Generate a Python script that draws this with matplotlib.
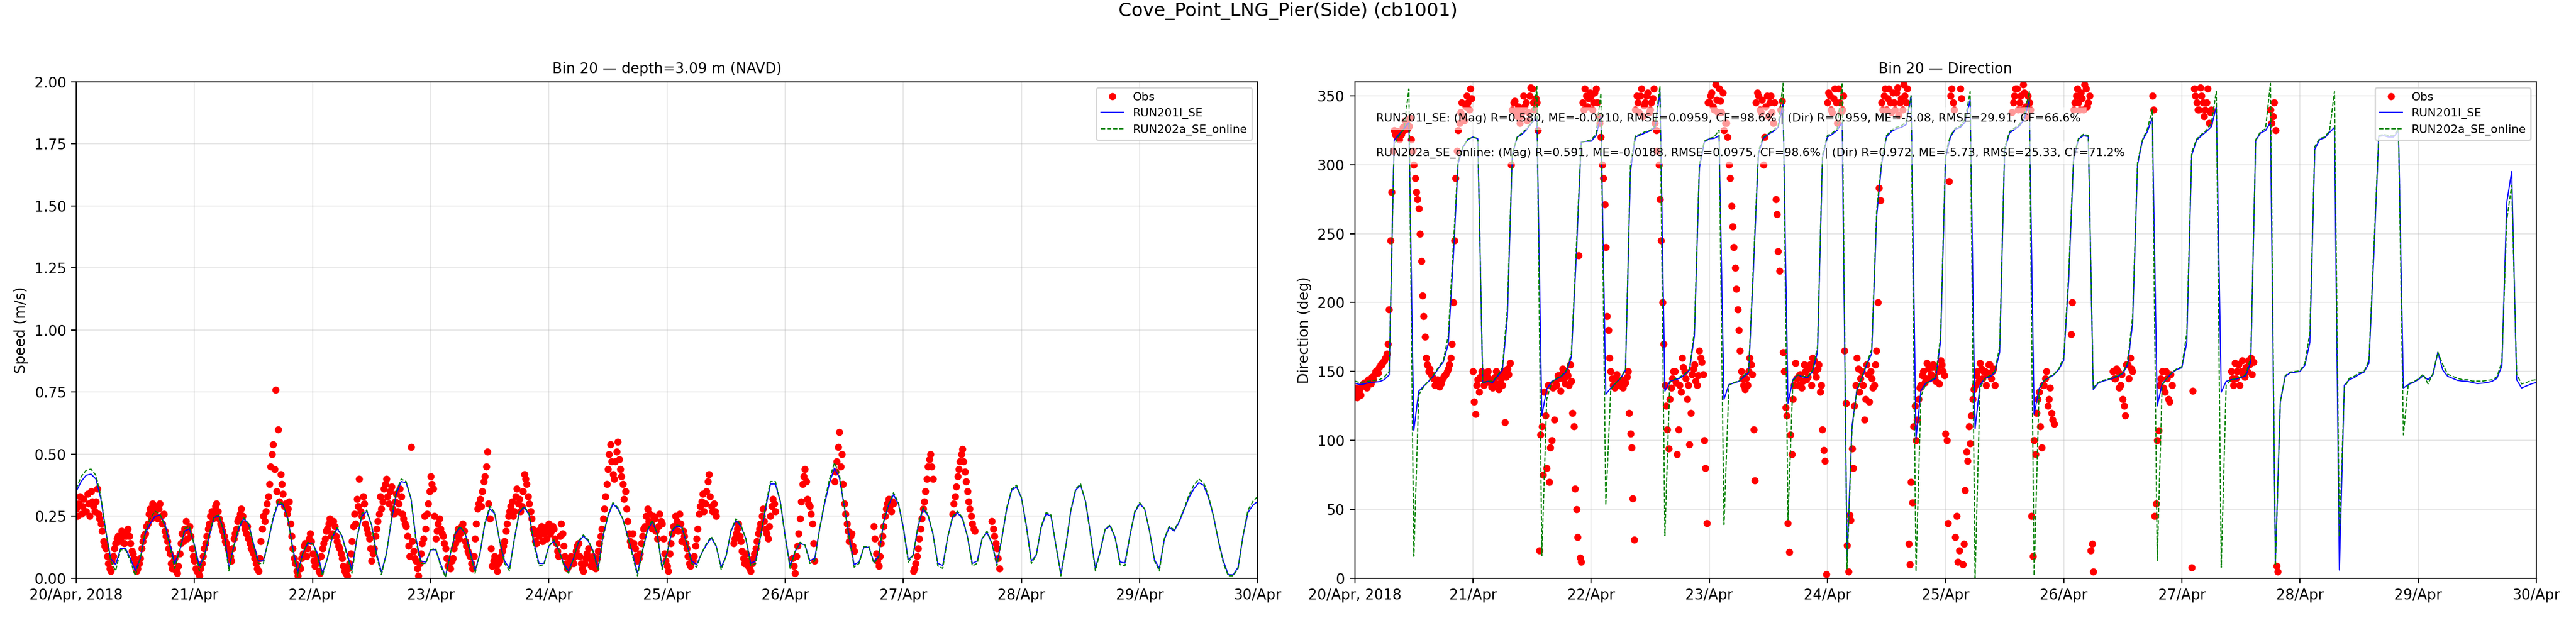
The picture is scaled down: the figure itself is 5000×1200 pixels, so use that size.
#===============================================================================
import matplotlib
matplotlib.use("Agg")
import matplotlib.pyplot as plt
import matplotlib.dates as mdates
import numpy as np

nan = np.nan

#===============================================================================
# station / run labels
station = "Cove_Point_LNG_Pier(Side) (cb1001)"
bin_label = "Bin 20"
depth_label = "depth=3.09 m (NAVD)"
run_names = ["RUN201I_SE", "RUN202a_SE_online"]
stats_lines = [
    "RUN201I_SE: (Mag) R=0.580, ME=-0.0210, RMSE=0.0959, CF=98.6% | (Dir) R=0.959, ME=-5.08, RMSE=29.91, CF=66.6%",
    "RUN202a_SE_online: (Mag) R=0.591, ME=-0.0188, RMSE=0.0975, CF=98.6% | (Dir) R=0.972, ME=-5.73, RMSE=25.33, CF=71.2%",
]

t_start = np.datetime64("2018-04-20T00:00")
t_end = np.datetime64("2018-04-30T00:00")

#===============================================================================
# model output, hourly from 20/Apr 00:00 (one row per day)
run201_speed = [
    0.35, 0.39, 0.415, 0.42, 0.40, 0.32, 0.19, 0.08, 0.055, 0.12, 0.12, 0.08, 0.03, 0.08, 0.18, 0.22, 0.25, 0.255, 0.22, 0.14, 0.06, 0.11, 0.19, 0.20,
    0.135, 0.05, 0.09, 0.17, 0.245, 0.25, 0.19, 0.04, 0.13, 0.20, 0.24, 0.22, 0.14, 0.07, 0.07, 0.15, 0.24, 0.30, 0.295, 0.24, 0.12, 0.025, 0.10, 0.14,
    0.142, 0.10, 0.02, 0.08, 0.165, 0.20, 0.17, 0.10, 0.035, 0.16, 0.25, 0.27, 0.215, 0.10, 0.025, 0.10, 0.23, 0.34, 0.39, 0.385, 0.32, 0.16, 0.07, 0.065,
    0.115, 0.115, 0.06, 0.007, 0.10, 0.18, 0.205, 0.18, 0.11, 0.03, 0.10, 0.22, 0.28, 0.26, 0.15, 0.07, 0.04, 0.16, 0.265, 0.285, 0.255, 0.14, 0.06, 0.06,
    0.13, 0.15, 0.115, 0.06, 0.03, 0.08, 0.145, 0.17, 0.15, 0.11, 0.04, 0.17, 0.25, 0.30, 0.28, 0.24, 0.17, 0.10, 0.02, 0.11, 0.19, 0.23, 0.18, 0.045,
    0.10, 0.19, 0.21, 0.205, 0.14, 0.07, 0.055, 0.10, 0.135, 0.163, 0.128, 0.045, 0.09, 0.19, 0.233, 0.21, 0.16, 0.06, 0.07, 0.17, 0.28, 0.38, 0.38, 0.31,
    0.17, 0.05, 0.108, 0.14, 0.135, 0.072, 0.08, 0.20, 0.30, 0.385, 0.444, 0.406, 0.29, 0.17, 0.055, 0.066, 0.125, 0.125, 0.066, 0.09, 0.226, 0.295, 0.337, 0.30,
    0.205, 0.075, 0.094, 0.21, 0.278, 0.253, 0.18, 0.06, 0.052, 0.165, 0.245, 0.264, 0.24, 0.17, 0.06, 0.07, 0.16, 0.184, 0.14, 0.06, 0.16, 0.28, 0.355, 0.368,
    0.323, 0.21, 0.07, 0.094, 0.205, 0.26, 0.25, 0.13, 0.02, 0.13, 0.27, 0.355, 0.375, 0.31, 0.18, 0.04, 0.11, 0.198, 0.21, 0.165, 0.066, 0.062, 0.17, 0.265,
    0.30, 0.28, 0.19, 0.075, 0.04, 0.156, 0.205, 0.19, 0.226, 0.275, 0.325, 0.36, 0.385, 0.375, 0.323, 0.25, 0.15, 0.07, 0.015, 0.014, 0.045, 0.17, 0.265, 0.295,
    0.31,
]
run202_speed = [
    0.36, 0.41, 0.435, 0.44, 0.415, 0.33, 0.19, 0.07, 0.03, 0.115, 0.115, 0.07, 0.01, 0.08, 0.19, 0.24, 0.27, 0.26, 0.21, 0.13, 0.04, 0.11, 0.20, 0.21,
    0.13, 0.03, 0.09, 0.18, 0.25, 0.255, 0.18, 0.03, 0.13, 0.21, 0.245, 0.22, 0.13, 0.06, 0.06, 0.15, 0.25, 0.31, 0.30, 0.24, 0.11, 0.01, 0.10, 0.145,
    0.14, 0.09, 0.01, 0.08, 0.17, 0.205, 0.17, 0.09, 0.02, 0.16, 0.26, 0.275, 0.21, 0.09, 0.015, 0.10, 0.24, 0.35, 0.40, 0.39, 0.32, 0.15, 0.06, 0.06,
    0.115, 0.12, 0.05, 0.005, 0.10, 0.185, 0.21, 0.18, 0.10, 0.02, 0.10, 0.225, 0.29, 0.265, 0.15, 0.06, 0.03, 0.16, 0.27, 0.29, 0.26, 0.13, 0.05, 0.055,
    0.13, 0.155, 0.115, 0.055, 0.02, 0.08, 0.15, 0.175, 0.155, 0.105, 0.03, 0.17, 0.255, 0.305, 0.285, 0.24, 0.17, 0.09, 0.01, 0.11, 0.195, 0.235, 0.18, 0.035,
    0.10, 0.195, 0.215, 0.21, 0.14, 0.06, 0.045, 0.10, 0.14, 0.168, 0.13, 0.035, 0.09, 0.195, 0.24, 0.215, 0.16, 0.05, 0.06, 0.17, 0.29, 0.39, 0.39, 0.31,
    0.165, 0.04, 0.108, 0.145, 0.135, 0.06, 0.07, 0.20, 0.31, 0.40, 0.465, 0.42, 0.29, 0.16, 0.045, 0.06, 0.128, 0.128, 0.06, 0.085, 0.23, 0.30, 0.345, 0.305,
    0.20, 0.065, 0.094, 0.215, 0.285, 0.258, 0.18, 0.05, 0.04, 0.165, 0.25, 0.27, 0.245, 0.17, 0.05, 0.06, 0.16, 0.19, 0.14, 0.05, 0.16, 0.285, 0.36, 0.375,
    0.325, 0.205, 0.06, 0.094, 0.21, 0.265, 0.255, 0.13, 0.01, 0.13, 0.275, 0.36, 0.38, 0.31, 0.175, 0.03, 0.11, 0.20, 0.215, 0.165, 0.055, 0.05, 0.17, 0.27,
    0.305, 0.28, 0.19, 0.07, 0.03, 0.16, 0.21, 0.195, 0.23, 0.28, 0.335, 0.375, 0.40, 0.385, 0.33, 0.25, 0.15, 0.06, 0.01, 0.01, 0.04, 0.175, 0.275, 0.31,
    0.33,
]
run201_dir = [
    141.6, 140.5, 141, 142, 142.3, 142.6, 144, 147.5, 317.5, 322, 326, 330.5, 107.4, 135.7, 139.3, 142.8, 146.8, 152.3, 157, 170, 231, 301, 312.8, 318.2,
    320, 318.7, 141.6, 142.8, 142, 146.4, 151, 189, 307, 320, 322, 325.8, 330.5, 334, 118, 137, 142.8, 144.5, 146.4, 150, 160.5, 233.7, 316.3, 316.8,
    316.8, 321, 335, 133.4, 138, 141.6, 145, 151, 295, 320, 321.5, 323, 324.6, 327, 353, 135.7, 142.8, 144, 145, 147.5, 151, 176, 297.5, 316.3,
    318.7, 319, 321, 129.8, 140.5, 141.6, 142.8, 146, 149, 225, 308, 319, 322, 324, 327, 344, 127, 144, 147.5, 146, 145.5, 150, 164, 305,
    320, 322, 325, 330.5, 14, 110, 137, 145, 155, 163, 262, 300, 320, 324, 326, 327, 329, 350, 101, 136, 141.6, 143, 145, 172,
    305, 320, 325.8, 327, 331, 347, 108.6, 140, 145, 146, 149, 164, 310, 323, 325.5, 328, 333, 347, 119, 137.5, 143.5, 145.5, 147.5, 151.5,
    158, 215, 303, 318.5, 321, 320.4, 137, 141.6, 143, 144, 145, 146.4, 148.5, 155, 185, 300, 317.5, 324, 334, 125, 141, 145, 149, 151.5,
    152.7, 171, 307, 317.7, 321, 324, 327.5, 342, 135, 142.8, 144, 144.5, 145.5, 147, 157, 317.5, 323, 324.7, 330.5, 12, 128, 146.4, 149, 149.5,
    150, 154.6, 171, 311, 318.2, 319.4, 323.4, 327, 6, 140, 144, 145.5, 148, 149.5, 156, 235, 320.5, 321, 320, 320, 324.6, 138, 140.5, 142,
    144, 146.8, 144, 147.5, 164, 151, 146.5, 145, 143.5, 143, 142.8, 142, 141.2, 141.5, 142, 142.8, 145, 154, 272.7, 295, 144, 138, 139.5, 141,
    142,
]
run202_dir = [
    143, 142, 142.5, 143, 143.5, 144, 146, 150, 314, 321, 326, 355, 16, 133, 139, 143, 147.5, 153, 158, 176, 240, 303, 313, 318.5,
    320, 319, 142, 143, 143, 147, 153, 196, 308, 320, 323, 326.5, 331, 357, 16.5, 130, 142, 145, 147, 151, 163, 240, 316, 317,
    318, 322, 352, 53, 137, 141.6, 145, 152, 300, 321, 322, 324, 325, 328, 357, 31, 142, 144.5, 146, 148, 152, 180, 300, 317,
    319, 320, 325, 39, 140, 142, 143, 147, 150, 230, 310, 320, 322.5, 325, 328, 359, 42.5, 143, 147.5, 146.5, 146, 151, 168, 307,
    321, 323, 326, 359.5, 7, 108, 136, 146, 156, 166, 266, 302, 321, 325, 327, 328, 331, 350, 5, 132, 141, 143.5, 146, 176,
    308, 321, 326.5, 328, 333, 353, 0.5, 138, 145, 147, 150, 168, 312, 324, 326.5, 329, 336, 353, 2, 136, 143, 146, 148, 152,
    160, 220, 305, 319, 322, 321, 138, 142, 143.5, 144.5, 145.5, 147, 149, 157, 190, 302, 318, 326, 340, 13, 140, 145.5, 149.5, 152,
    153.5, 178, 309, 318.5, 322, 325, 330, 353, 8, 140, 144, 145, 146, 148, 160, 318, 324, 326, 359, 9, 128, 147, 149.5, 150,
    150.5, 156, 178, 313, 319, 320, 324.5, 353, 30, 138, 145, 146.5, 149, 150, 158, 240, 321, 322, 321, 321, 326, 104, 141, 142.5,
    144.5, 148, 141, 148.5, 164, 155, 148, 146.5, 145, 144, 144, 143, 143, 143, 143.5, 144, 146, 157, 260, 285, 148, 141, 142, 143.5,
    144,
]

#===============================================================================
# ADCP observations, every 30 min from 20/Apr 00:00 (one row per 12 h)
obs_speed = [
    0.28, 0.30, 0.26, 0.32, 0.27, 0.30, 0.35, 0.29, 0.31, 0.26, 0.22, 0.15, 0.12, 0.06, 0.03, 0.09, 0.14, 0.17, 0.16, 0.18, 0.17, 0.20, 0.14, 0.10,
    0.06, 0.04, 0.08, 0.15, 0.18, 0.22, 0.28, 0.30, 0.26, 0.24, 0.30, 0.22, 0.19, 0.15, 0.10, 0.04, 0.08, 0.02, 0.10, 0.18, 0.20, 0.16, 0.21, 0.12,
    0.07, 0.03, 0.01, 0.06, 0.12, 0.17, 0.22, 0.27, 0.25, 0.30, 0.24, 0.21, 0.17, 0.14, 0.11, 0.07, 0.16, 0.20, 0.24, 0.28, 0.22, 0.18, 0.16, 0.12,
    0.10, 0.06, 0.03, 0.15, 0.25, 0.27, 0.33, 0.45, 0.54, 0.76, 0.60, 0.42, 0.34, 0.30, 0.28, 0.22, 0.12, 0.06, 0.01, 0.04, 0.10, 0.14, 0.12, 0.18,
    0.10, 0.05, 0.08, 0.02, 0.12, 0.16, 0.20, 0.24, 0.18, 0.21, 0.15, 0.12, 0.08, 0.03, 0.01, 0.06, 0.15, 0.26, 0.32, 0.40, 0.25, 0.30, 0.20, 0.16,
    0.07, 0.12, 0.20, 0.26, 0.28, 0.36, 0.40, 0.30, 0.37, 0.26, 0.34, 0.30, 0.33, 0.24, 0.21, 0.13, 0.53, 0.11, 0.07, 0.01, 0.10, 0.16, 0.20, 0.30,
    0.41, 0.36, 0.16, 0.22, 0.20, 0.17, 0.12, 0.05, 0.04, 0.08, 0.14, 0.20, 0.18, 0.22, 0.15, 0.11, 0.09, 0.04, 0.16, 0.28, 0.32, 0.35, 0.41, 0.51,
    0.24, 0.05, 0.09, 0.03, 0.07, 0.11, 0.15, 0.22, 0.27, 0.31, 0.27, 0.36, 0.32, 0.29, 0.42, 0.38, 0.30, 0.24, 0.18, 0.14, 0.17, 0.21, 0.18, 0.16,
    0.22, 0.19, 0.20, 0.14, 0.09, 0.22, 0.13, 0.06, 0.05, 0.09, 0.06, 0.11, 0.14, 0.06, 0.03, 0.08, 0.12, 0.05, 0.09, 0.04, 0.11, 0.17, 0.24, 0.33,
    0.44, 0.54, 0.42, 0.47, 0.55, 0.44, 0.38, 0.35, 0.23, 0.15, 0.18, 0.12, 0.07, 0.10, 0.17, 0.21, 0.28, 0.26, 0.20, 0.24, 0.16, 0.26, 0.22, 0.10,
    0.05, 0.10, 0.18, 0.20, 0.23, 0.26, 0.15, 0.17, 0.12, 0.06, 0.08, 0.09, 0.16, 0.26, 0.31, 0.27, 0.35, 0.42, 0.29, 0.30, 0.25, nan, nan, nan,
    nan, nan, nan, 0.14, 0.18, 0.22, 0.15, 0.08, 0.10, 0.05, 0.03, 0.08, 0.12, 0.18, 0.22, 0.28, 0.20, 0.16, 0.25, 0.32, 0.27, nan, nan, nan,
    nan, nan, nan, 0.08, 0.02, 0.13, 0.24, 0.38, 0.44, 0.32, 0.29, 0.22, 0.07, nan, nan, nan, nan, nan, nan, nan, 0.39, 0.47, 0.59, 0.50,
    0.30, 0.22, 0.15, 0.18, 0.11, nan, nan, nan, nan, nan, nan, nan, 0.21, 0.10, 0.05, 0.14, 0.21, 0.28, 0.32, 0.27, 0.30, nan, nan, nan,
    nan, nan, nan, nan, 0.03, 0.06, 0.12, 0.20, 0.28, 0.35, 0.45, 0.50, 0.40, nan, nan, nan, nan, nan, nan, nan, 0.26, 0.33, 0.41, 0.47,
    0.52, 0.43, 0.35, 0.28, 0.22, 0.19, nan, nan, nan, nan, nan, nan, 0.23, 0.17, 0.12, 0.04,
]
obs_dir = [
    135, 131, 137, 140, 142, 138, 143, 146, 148, 151, 153, 155, 158, 163, 195, 280, 325, 320, 318, 322, 325, 330, 328, 318,
    300, 280, 268, 230, 190, 160, 150, 148, 145, 143, 142, 141, 146, 148, 152, 160, 200, 290, 325, 338, 335, 342, 345, 355,
    150, 119, 144, 146, 145, 142, 150, 142, 138, 146, 141, 148, 140, 113, 152, 156, 340, 346, 335, 330, 338, 342, 332, 350,
    355, 340, 345, 20, 110, 135, 80, 70, 100, 115, 140, 145, 148, 145, 150, 140, 143, 110, 50, 234, 12, 340, 350, 348,
    350, 345, 355, 335, 320, 290, 240, 180, 150, 140, 145, 143, 140, 138, 142, 150, 105, 58, 340, 345, 350, 335, 345, 352,
    340, 348, 330, 310, 275, 200, 140, 108, 130, 145, 150, 90, 140, 160, 150, 130, 97, 148, 155, 140, 165, 157, 100, 40,
    345, 352, 340, 347, 355, 338, 325, 330, 300, 270, 240, 210, 180, 150, 140, 145, 150, 155, 108, 345, 350, 338, 300, 342,
    335, 350, 330, 275, 237, 340, 164, 124, 40, 104, 130, 156, 140, 148, 143, 150, 146, 155, 160, 150, 152, 135, 108, 85,
    345, 350, 338, 355, 330, 345, 340, 165, 24, 46, 94, 125, 160, 135, 150, 115, 155, 128, 145, 140, 165, 283, 345, 350,
    340, 355, 338, 345, 352, 336, 348, 358, 345, 25, 70, 110, 100, 130, 140, 150, 145, 152, 148, 155, 143, 150, 158, 150,
    105, 40, 350, 345, 30, 12, 355, 10, 64, 85, 98, 130, 140, 150, 156, 145, 150, 148, 155, 150, 140, nan, nan, nan,
    nan, nan, nan, 338, 350, 355, 345, 340, 352, 335, 345, 45, 100, 120, 135, 95, 140, 150, 130, 120, 112, nan, nan, nan,
    nan, nan, nan, 177, 340, 350, 345, 352, 340, 355, 345, 20, 5, nan, nan, nan, nan, nan, nan, nan, 150, 145, 150, 140,
    130, 118, 155, 160, 150, nan, nan, nan, nan, nan, nan, nan, 350, 45, 100, 140, 150, 135, 145, 128, 140, nan, nan, nan,
    nan, nan, nan, nan, 8, 355, 345, 340, 350, 335, 345, 330, 340, nan, nan, nan, nan, nan, nan, nan, 150, 140, 145, 155,
    150, 148, 153, 158, 160, 157, nan, nan, nan, nan, nan, nan, 340, 335, 325, 5,
]

# ADCP observations at the quarter past / quarter to samples (one row per 12 h)
obs_speed_q = [
    0.25, 0.33, 0.29, 0.27, 0.34, 0.25, 0.31, 0.27, 0.36, 0.24, 0.19, 0.13, 0.09, 0.04, 0.07, 0.12, 0.16, 0.15, 0.19, 0.14, 0.19, 0.17, 0.11, 0.08,
    0.03, 0.06, 0.12, 0.17, 0.21, 0.26, 0.24, 0.27, 0.29, 0.28, 0.25, 0.26, 0.17, 0.12, 0.06, 0.07, 0.03, 0.05, 0.14, 0.15, 0.23, 0.19, 0.17, 0.09,
    0.04, 0.02, 0.04, 0.09, 0.14, 0.20, 0.25, 0.24, 0.29, 0.27, 0.22, 0.19, 0.15, 0.12, 0.09, 0.12, 0.18, 0.23, 0.26, 0.25, 0.20, 0.21, 0.14, 0.11,
    0.08, 0.04, 0.08, 0.20, 0.23, 0.30, 0.38, 0.50, 0.44, 0.35, 0.31, 0.38, 0.29, 0.26, 0.31, 0.17, 0.08, 0.03, 0.05, 0.08, 0.13, 0.09, 0.16, 0.15,
    0.07, 0.06, 0.03, 0.09, 0.14, 0.19, 0.22, 0.17, 0.23, 0.17, 0.13, 0.10, 0.05, 0.02, 0.04, 0.10, 0.21, 0.22, 0.29, 0.27, 0.33, 0.22, 0.18, 0.12,
    0.10, 0.17, 0.23, 0.33, 0.31, 0.38, 0.33, 0.35, 0.28, 0.31, 0.27, 0.36, 0.26, 0.22, 0.17, 0.09, 0.15, 0.08, 0.04, 0.06, 0.14, 0.25, 0.26, 0.35,
    0.38, 0.25, 0.19, 0.24, 0.18, 0.14, 0.08, 0.06, 0.07, 0.12, 0.17, 0.16, 0.21, 0.19, 0.13, 0.10, 0.06, 0.09, 0.22, 0.30, 0.29, 0.39, 0.45, 0.30,
    0.12, 0.07, 0.05, 0.06, 0.09, 0.13, 0.19, 0.25, 0.29, 0.25, 0.33, 0.30, 0.27, 0.35, 0.40, 0.33, 0.27, 0.20, 0.15, 0.19, 0.20, 0.15, 0.19, 0.21,
    0.18, 0.21, 0.16, 0.11, 0.17, 0.18, 0.09, 0.04, 0.07, 0.07, 0.09, 0.13, 0.09, 0.04, 0.06, 0.10, 0.08, 0.07, 0.06, 0.08, 0.14, 0.20, 0.28, 0.38,
    0.50, 0.47, 0.40, 0.51, 0.48, 0.41, 0.32, 0.28, 0.18, 0.13, 0.14, 0.09, 0.08, 0.14, 0.20, 0.25, 0.23, 0.22, 0.25, 0.19, 0.21, 0.23, 0.16, 0.07,
    0.03, 0.14, 0.21, 0.25, 0.19, 0.22, 0.19, 0.14, 0.09, 0.05, 0.07, 0.13, 0.20, 0.29, 0.34, 0.30, 0.39, 0.33, 0.27, 0.27, nan, nan, nan, nan,
    nan, nan, nan, 0.16, 0.20, 0.17, 0.11, 0.06, 0.07, 0.04, 0.06, 0.10, 0.15, 0.20, 0.25, 0.23, 0.18, 0.21, 0.29, 0.30, nan, nan, nan, nan,
    nan, nan, nan, 0.05, 0.09, 0.18, 0.31, 0.41, 0.39, 0.30, 0.26, 0.14, nan, nan, nan, nan, nan, nan, nan, nan, 0.43, 0.53, 0.45, 0.38,
    0.26, 0.19, 0.17, 0.13, nan, nan, nan, nan, nan, nan, nan, nan, 0.16, 0.07, 0.09, 0.17, 0.25, 0.30, 0.29, 0.31, nan, nan, nan, nan,
    nan, nan, nan, nan, 0.04, 0.09, 0.16, 0.24, 0.31, 0.40, 0.48, 0.45, nan, nan, nan, nan, nan, nan, nan, nan, 0.30, 0.37, 0.44, 0.50,
    0.47, 0.39, 0.31, 0.25, 0.20, nan, nan, nan, nan, nan, nan, nan, 0.20, 0.14, 0.08, nan,
]
obs_dir_q = [
    138, 134, 133, 141, 139, 144, 141, 144, 150, 149, 155, 157, 160, 170, 245, 310, 322, 324, 321, 327, 332, 326, 334, 310,
    290, 275, 250, 205, 175, 155, 152, 146, 140, 144, 139, 144, 147, 150, 155, 170, 245, 310, 330, 345, 332, 350, 340, 348,
    128, 140, 135, 150, 140, 147, 145, 139, 143, 150, 137, 145, 150, 146, 148, 300, 345, 338, 342, 335, 350, 345, 338, 356,
    345, 348, 325, 104, 75, 118, 140, 95, 138, 142, 147, 136, 152, 141, 147, 155, 120, 65, 30, 15, 345, 355, 342, 352,
    340, 352, 345, 330, 300, 271, 190, 160, 145, 138, 148, 140, 144, 141, 146, 120, 95, 28, 350, 338, 355, 343, 350, 338,
    345, 355, 325, 300, 245, 170, 125, 94, 138, 150, 142, 108, 135, 153, 145, 140, 120, 152, 143, 147, 160, 148, 80, 345,
    350, 342, 358, 338, 346, 352, 330, 320, 290, 255, 225, 195, 165, 145, 137, 140, 160, 148, 71, 352, 340, 347, 320, 350,
    345, 338, 345, 264, 223, 346, 150, 118, 19, 90, 140, 145, 147, 138, 155, 144, 152, 140, 158, 146, 155, 140, 93, 3,
    352, 340, 348, 345, 355, 338, 350, 127, 5, 42, 80, 140, 152, 145, 140, 130, 148, 150, 138, 155, 200, 274, 340, 355,
    348, 345, 352, 340, 356, 345, 340, 350, 355, 10, 55, 125, 115, 138, 147, 142, 156, 145, 153, 146, 152, 141, 155, 147,
    100, 288, 355, 340, 45, 20, 348, 25, 92, 110, 118, 137, 147, 143, 152, 150, 140, 155, 145, 152, nan, nan, nan, nan,
    nan, nan, nan, 345, 355, 340, 350, 358, 342, 350, 340, 16, 90, 130, 110, 140, 145, 125, 138, 115, nan, nan, nan, nan,
    nan, nan, nan, 200, 345, 355, 340, 348, 358, 342, 350, 25, nan, nan, nan, nan, nan, nan, nan, nan, 145, 152, 138, 148,
    125, 155, 145, 152, nan, nan, nan, nan, nan, nan, nan, nan, 340, 54, 107, 145, 138, 150, 130, 148, nan, nan, nan, nan,
    nan, nan, nan, nan, 136, 350, 340, 356, 345, 340, 355, 338, nan, nan, nan, nan, nan, nan, nan, nan, 145, 156, 150, 140,
    158, 146, 150, 155, 148, nan, nan, nan, nan, nan, nan, nan, 330, 345, 9, nan,
]

model_time = t_start + np.arange(len(run201_speed)) * np.timedelta64(60, "m")
obs_time = t_start + np.arange(len(obs_speed)) * np.timedelta64(30, "m")
obs_time_q = obs_time + np.timedelta64(15, "m")

assert len(run201_speed) == len(run202_speed) == len(run201_dir) == len(run202_dir)
assert len(obs_speed) == len(obs_dir) == len(obs_speed_q) == len(obs_dir_q)


#===============================================================================
def day_label(x, pos):
    d = mdates.num2date(x)
    if pos == 0:
        return d.strftime("%d/%b, %Y")
    return d.strftime("%d/%b")


def draw_panel(ax, obs, obs_q, run201, run202, ylabel):
    t_obs = np.concatenate([obs_time, obs_time_q])
    v_obs = np.concatenate([obs, obs_q])
    ax.plot(t_obs, v_obs, "o", color="red", ms=4, ls="none", label="Obs")
    ax.plot(model_time, run201, "-", color="blue", lw=0.8, label=run_names[0])
    ax.plot(model_time, run202, "--", color="green", lw=0.8, label=run_names[1])

    ax.set_xlim(t_start, t_end)
    ax.xaxis.set_major_locator(mdates.DayLocator())
    ax.xaxis.set_major_formatter(plt.FuncFormatter(day_label))
    ax.set_ylabel(ylabel)
    ax.grid(True, alpha=0.3)
    ax.legend(loc="upper right", fontsize=8)


#===============================================================================
fig, (ax_spd, ax_dir) = plt.subplots(1, 2, figsize=(25, 6), dpi=200)
fig.subplots_adjust(left=0.0296, right=0.9846, bottom=0.0642, top=0.8675, wspace=0.082)

draw_panel(ax_spd, obs_speed, obs_speed_q, run201_speed, run202_speed, "Speed (m/s)")
ax_spd.set_ylim(0, 2)
ax_spd.set_title(f"{bin_label} \u2014 {depth_label}", fontsize=10)

draw_panel(ax_dir, obs_dir, obs_dir_q, run201_dir, run202_dir, "Direction (deg)")
ax_dir.set_ylim(0, 360)
ax_dir.set_title(f"{bin_label} \u2014 Direction", fontsize=10)

for y, line in zip([0.926, 0.857], stats_lines):
    ax_dir.text(0.018, y, line, transform=ax_dir.transAxes, fontsize=8, va="center",
                bbox=dict(facecolor="white", alpha=0.6, edgecolor="none"))

fig.suptitle(station, fontsize=13, y=0.982, va="center")

fig.savefig("out.png", dpi=200)
